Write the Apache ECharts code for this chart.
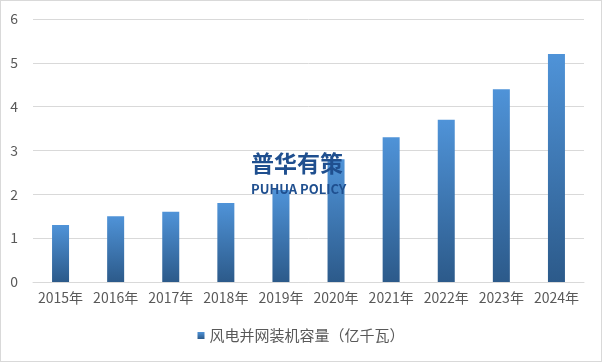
<!DOCTYPE html>
<html><head><meta charset="utf-8">
<script src="https://cdn.jsdelivr.net/npm/echarts@6/dist/echarts.min.js"></script>
<style>html,body{margin:0;padding:0;background:#fff}#c{width:600px;height:360px;border:1px solid #d9d9d9}</style>
</head><body><div id="c"></div>
<script>
const categories = ['2015年','2016年','2017年','2018年','2019年','2020年','2021年','2022年','2023年','2024年'];
const seriesName = '风电并网装机容量（亿千瓦）';
const values = [1.3, 1.5, 1.6, 1.8, 2.1, 2.8, 3.3, 3.7, 4.4, 5.2];
const chart = echarts.init(document.getElementById('c'));
const font = '"Noto Sans CJK SC", "Microsoft YaHei", sans-serif';
chart.setOption({
  animation: false,
  textStyle: {fontFamily: font},
  grid: {left: 32, right: 17, top: 18, bottom: 79},
  xAxis: {type: 'category', data: categories,
    axisLine: {lineStyle: {color: '#d9d9d9'}}, axisTick: {show: false},
    axisLabel: {color: '#595959', fontSize: 14, fontFamily: font, margin: 9, interval: 0, hideOverlap: false}},
  yAxis: {type: 'value', min: 0, max: 6, interval: 1,
    axisLine: {show: false}, axisTick: {show: false},
    splitLine: {lineStyle: {color: '#d9d9d9'}},
    axisLabel: {color: '#595959', fontSize: 14, fontFamily: font, margin: 15}},
  legend: {bottom: 13, left: 'center', itemWidth: 7, itemHeight: 7, itemGap: 4,
    icon: 'rect', textStyle: {color: '#595959', fontSize: 15, fontFamily: font}},
  series: [{name: seriesName, type: 'bar', data: values, barWidth: 17,
    itemStyle: {color: new echarts.graphic.LinearGradient(0,0,0,1,[
      {offset: 0, color: '#4f93d8'}, {offset: 1, color: '#2c5a8a'}])}}],
  graphic: [
    {type: 'text', left: 250, top: 151, z: 100,
      style: {text: '普华有策', font: 'bold 23px ' + font, fill: '#1f4f8f'}},
    {type: 'text', left: 250, top: 182, z: 100,
      style: {text: 'PUHUA POLICY', font: 'bold 13px ' + font, fill: '#1f4f8f'}}
  ]
});
</script></body></html>
